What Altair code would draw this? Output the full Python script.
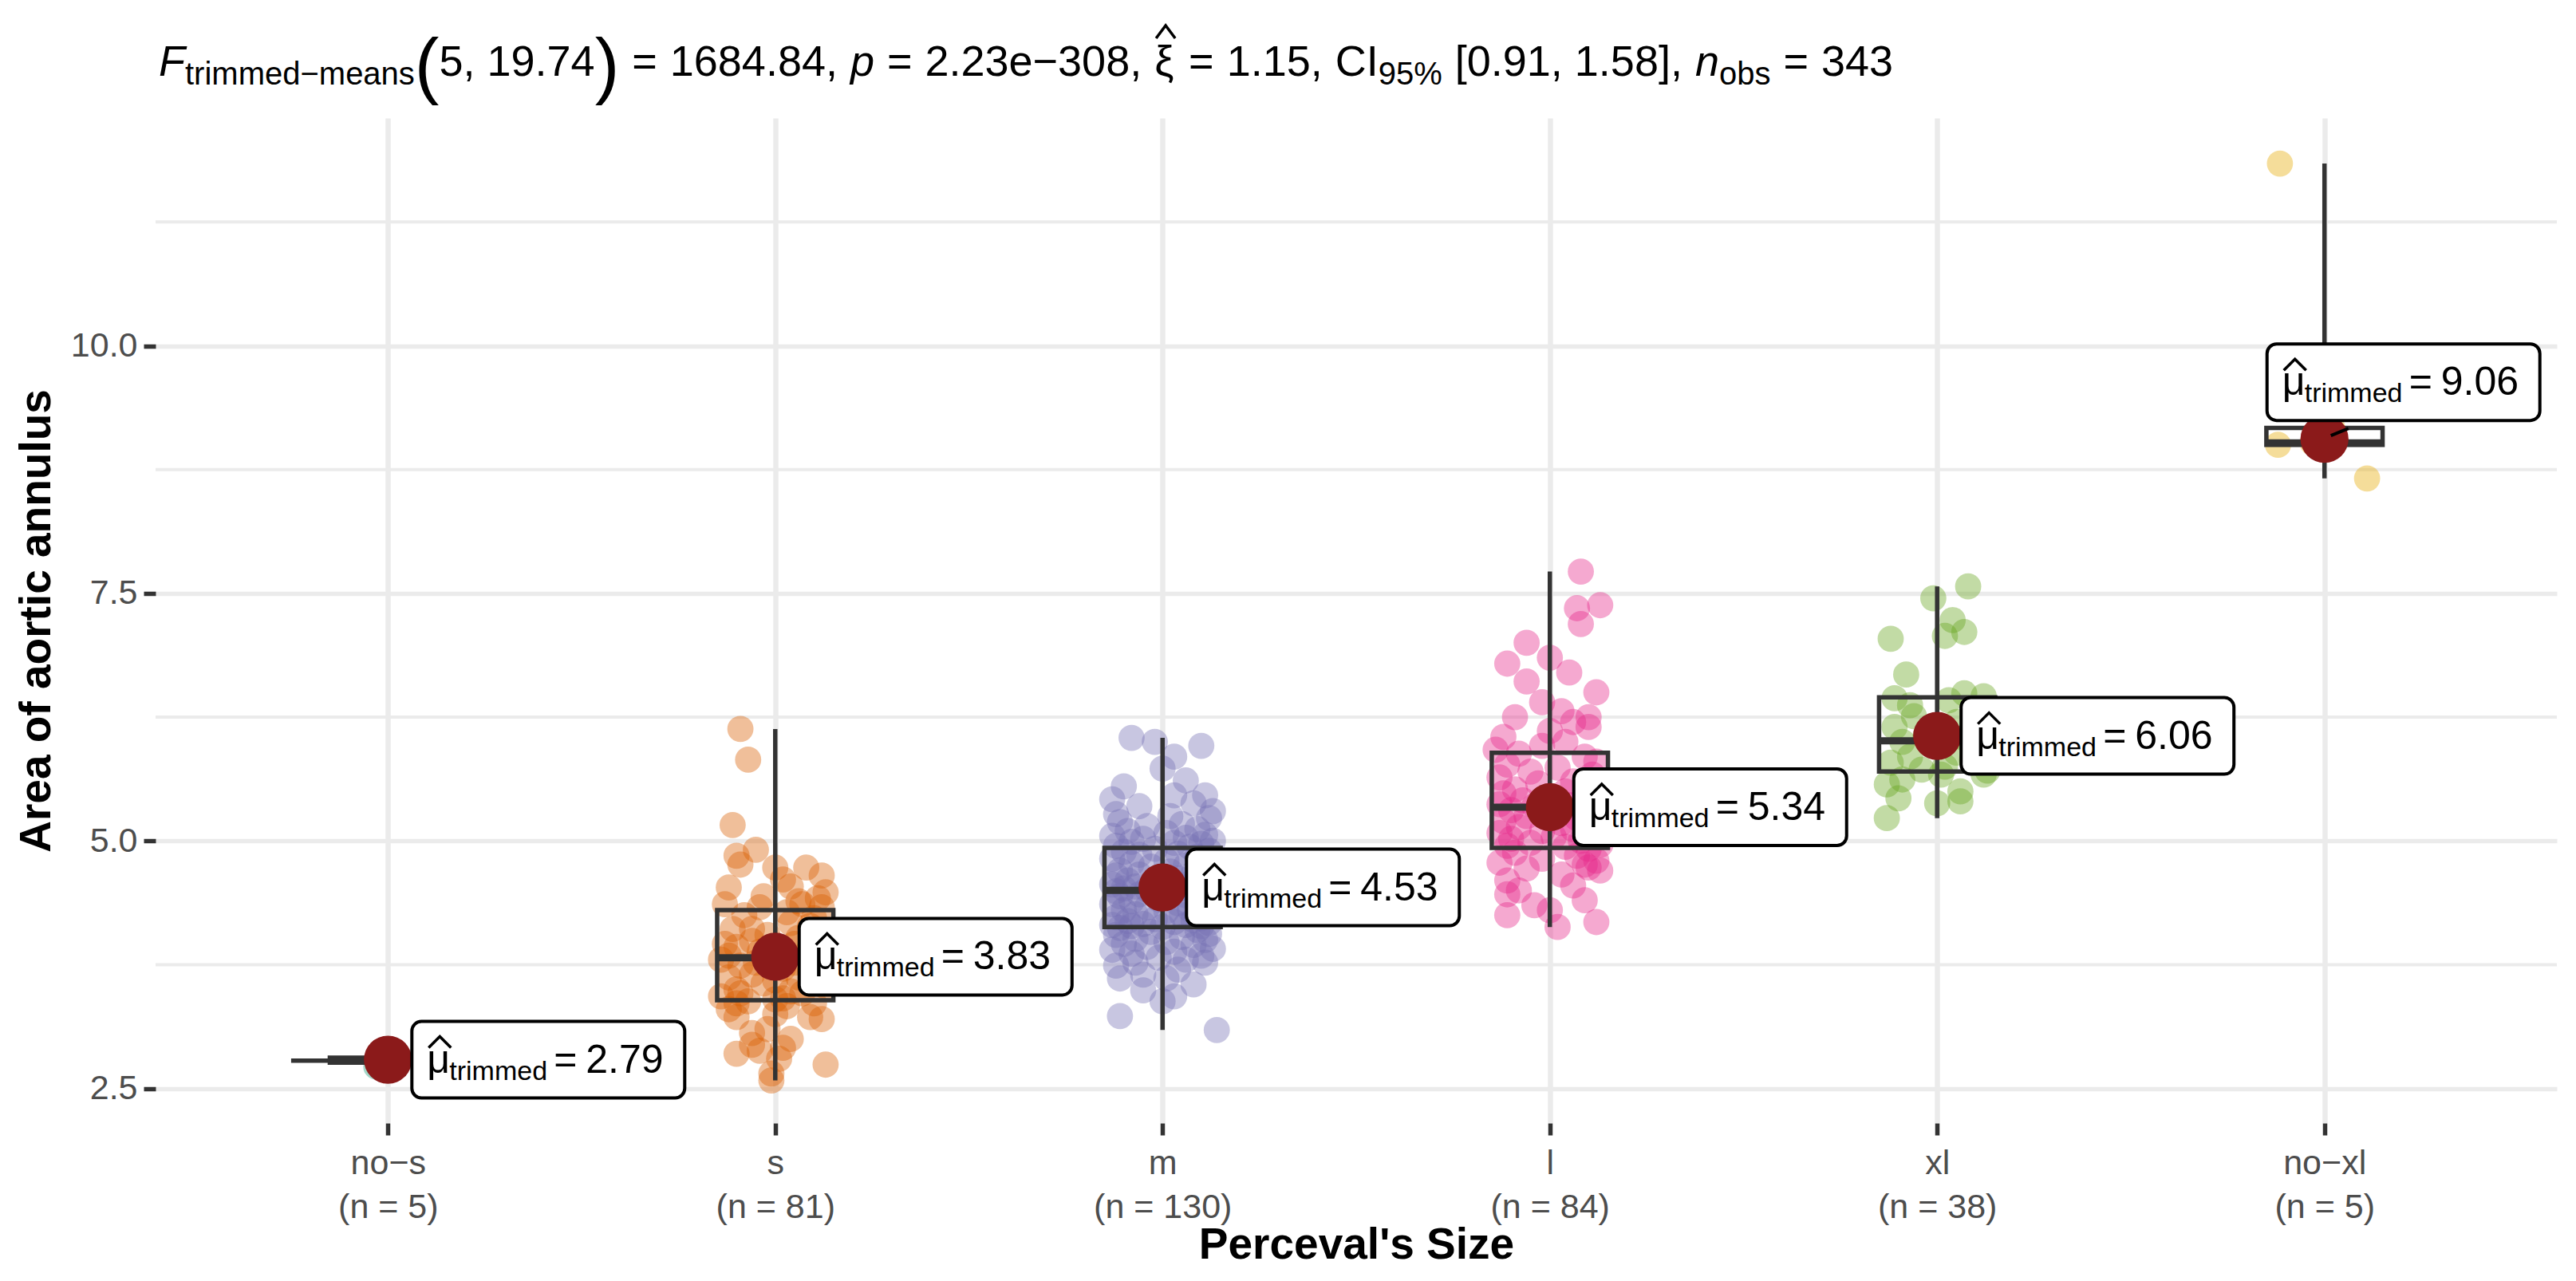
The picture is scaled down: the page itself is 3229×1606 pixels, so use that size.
import json
import altair as alt
import pandas as pd

FONT = "Liberation Sans"
GRID = "#EBEBEB"
DARK = "#333333"
RED = "#8B1A1A"

# ---------------- data ----------------
groups = ["no-s", "s", "m", "l", "xl", "no-xl"]
tick_names = ["no\u2212s", "s", "m", "l", "xl", "no\u2212xl"]
n_labels = ["(n = 5)", "(n = 81)", "(n = 130)", "(n = 84)", "(n = 38)", "(n = 5)"]
palette = ["#1B9E77", "#D95F02", "#7570B3", "#E7298A", "#66A61E", "#E6AB02"]

trimmed_means = [2.79, 3.83, 4.53, 5.34, 6.06, 9.06]
box_q1 = [2.76, 3.39, 4.13, 4.93, 5.70, 9.00]
box_median = [2.78, 3.82, 4.50, 5.34, 6.01, 9.02]
box_q3 = [2.81, 4.30, 4.93, 5.89, 6.45, 9.17]

y_breaks = [2.5, 5.0, 7.5, 10.0]
y_minor_breaks = [3.75, 6.25, 8.75, 11.25]

# (value, horizontal jitter in category units)
pts_no_s = [(2.72, -0.03), (2.77, 0.01), (2.79, -0.02), (2.81, 0.02), (2.83, -0.01)]

pts_s = [
    (6.13, -0.09), (5.82, -0.07), (5.16, -0.11), (4.91, -0.05), (4.85, -0.10), (4.76, -0.09), (4.73, 0.08), (4.73, 0.00), (4.65, 0.12), (4.61, 0.02),
    (4.54, 0.04), (4.53, -0.12), (4.48, 0.13), (4.44, -0.03), (4.42, 0.11), (4.39, 0.06), (4.36, 0.07), (4.36, -0.13), (4.33, -0.04), (4.33, 0.12),
    (4.28, 0.03), (4.25, -0.08), (4.22, 0.10), (4.17, 0.04), (4.14, 0.09), (4.11, -0.11), (4.11, -0.06), (4.08, 0.13), (4.05, -0.02), (4.02, 0.06),
    (3.99, -0.06), (3.96, 0.05), (3.96, -0.13), (3.93, -0.10), (3.93, 0.10), (3.90, 0.01), (3.88, -0.04), (3.86, 0.08), (3.84, -0.12), (3.83, 0.12),
    (3.80, -0.14), (3.80, 0.12), (3.77, -0.05), (3.77, 0.05), (3.74, -0.09), (3.71, 0.02), (3.68, 0.09), (3.65, -0.06), (3.62, -0.12), (3.62, 0.06),
    (3.59, 0.00), (3.59, 0.11), (3.56, -0.03), (3.53, 0.13), (3.50, -0.10), (3.48, 0.04), (3.46, -0.09), (3.46, 0.07), (3.43, -0.14), (3.41, 0.02),
    (3.40, 0.00), (3.38, -0.07), (3.36, -0.10), (3.36, 0.10), (3.33, 0.03), (3.30, -0.12), (3.25, 0.00), (3.22, -0.10), (3.22, 0.09), (3.20, 0.12),
    (3.10, -0.02), (3.06, -0.06), (3.00, 0.04), (2.94, -0.06), (2.91, 0.02), (2.88, -0.04), (2.85, -0.10), (2.80, 0.01), (2.74, 0.13), (2.65, -0.01), (2.58, -0.01),
]

pts_m = [
    (6.04, -0.08), (6.00, -0.02), (5.96, 0.10), (5.85, 0.03), (5.73, 0.00), (5.61, 0.06), (5.55, -0.10), (5.46, 0.03), (5.46, 0.11), (5.42, -0.13),
    (5.38, 0.08), (5.35, -0.06), (5.30, 0.13), (5.27, -0.12), (5.25, 0.02), (5.23, 0.12), (5.19, -0.11), (5.17, 0.05), (5.15, -0.04), (5.12, 0.09),
    (5.10, -0.09), (5.08, 0.01), (5.06, 0.11), (5.05, -0.13), (5.03, 0.06), (5.02, -0.05), (5.00, 0.13), (4.99, -0.08), (4.98, 0.03), (4.97, 0.10),
    (4.95, -0.12), (4.94, 0.07), (4.92, -0.02), (4.90, 0.12), (4.89, -0.10), (4.87, 0.04), (4.86, -0.06), (4.84, 0.09), (4.82, -0.13), (4.80, 0.01),
    (4.79, 0.11), (4.77, -0.08), (4.75, 0.06), (4.74, -0.03), (4.72, 0.13), (4.70, -0.11), (4.69, 0.02), (4.67, 0.08), (4.66, -0.06), (4.65, -0.12),
    (4.63, 0.10), (4.62, 0.04), (4.60, -0.09), (4.59, 0.12), (4.58, -0.02), (4.57, 0.07), (4.56, -0.13), (4.55, 0.00), (4.54, -0.07), (4.53, 0.11),
    (4.53, 0.05), (4.52, -0.10), (4.51, 0.13), (4.51, -0.04), (4.50, 0.08), (4.49, -0.12), (4.48, 0.02), (4.47, 0.10), (4.46, -0.06), (4.45, 0.06),
    (4.44, -0.11), (4.42, 0.12), (4.41, -0.01), (4.40, 0.09), (4.39, -0.08), (4.37, 0.04), (4.36, -0.13), (4.34, 0.11), (4.33, -0.04), (4.31, 0.07),
    (4.30, -0.10), (4.29, 0.01), (4.27, 0.13), (4.26, -0.07), (4.25, 0.05), (4.23, -0.12), (4.22, 0.10), (4.21, -0.02), (4.20, 0.08), (4.19, -0.09),
    (4.18, 0.03), (4.17, 0.12), (4.16, -0.05), (4.15, -0.13), (4.15, 0.06), (4.14, 0.10), (4.14, -0.08), (4.13, 0.00), (4.12, -0.11), (4.10, 0.09),
    (4.08, -0.03), (4.06, 0.12), (4.05, -0.12), (4.03, 0.05), (4.01, -0.07), (4.00, 0.11), (3.98, 0.01), (3.96, -0.10), (3.95, 0.08), (3.93, -0.04),
    (3.91, 0.13), (3.90, -0.13), (3.88, 0.03), (3.86, -0.08), (3.84, 0.10), (3.82, -0.01), (3.80, 0.06), (3.77, -0.07), (3.77, 0.11), (3.74, -0.12),
    (3.70, 0.04), (3.65, -0.05), (3.61, -0.11), (3.61, 0.01), (3.55, 0.08), (3.49, -0.05), (3.43, 0.03), (3.38, 0.00), (3.23, -0.11), (3.09, 0.14),
]

pts_l = [
    (7.72, 0.08), (7.38, 0.13), (7.35, 0.07), (7.19, 0.08), (7.00, -0.06), (6.85, 0.00), (6.79, -0.11), (6.70, 0.05), (6.61, -0.06), (6.50, 0.12),
    (6.40, -0.02), (6.31, 0.03), (6.25, -0.09), (6.25, 0.10), (6.20, 0.06), (6.15, 0.10), (6.11, 0.00), (6.05, -0.12), (6.00, 0.04), (5.96, -0.02),
    (5.92, -0.14), (5.88, -0.08), (5.85, 0.09), (5.80, 0.12), (5.77, -0.11), (5.74, 0.02), (5.70, -0.05), (5.67, 0.11), (5.64, -0.13), (5.60, 0.06),
    (5.58, -0.03), (5.55, 0.13), (5.52, -0.09), (5.50, 0.04), (5.48, -0.12), (5.45, 0.09), (5.43, 0.00), (5.41, -0.07), (5.39, 0.12), (5.37, -0.13),
    (5.36, 0.05), (5.35, -0.04), (5.33, 0.10), (5.31, -0.10), (5.29, 0.02), (5.27, 0.13), (5.25, -0.06), (5.23, 0.07), (5.20, -0.12), (5.18, 0.03),
    (5.16, 0.11), (5.14, -0.08), (5.12, 0.06), (5.10, -0.02), (5.08, -0.13), (5.06, 0.12), (5.04, 0.01), (5.02, -0.10), (5.00, 0.08), (4.98, -0.05),
    (4.96, 0.13), (4.95, -0.11), (4.94, 0.04), (4.92, 0.10), (4.88, -0.09), (4.85, 0.07), (4.82, -0.02), (4.80, 0.12), (4.78, -0.13), (4.76, 0.09),
    (4.73, 0.10), (4.72, -0.06), (4.70, 0.13), (4.66, 0.03), (4.60, -0.11), (4.55, 0.06), (4.50, -0.08), (4.46, -0.11), (4.40, 0.09), (4.35, -0.04),
    (4.30, 0.00), (4.25, -0.11), (4.18, 0.12), (4.13, 0.02),
]

pts_xl = [
    (7.57, 0.08), (7.45, -0.01), (7.23, 0.04), (7.11, 0.07), (7.07, 0.02), (7.04, -0.12), (6.68, -0.08), (6.49, 0.07), (6.46, 0.12), (6.44, -0.11),
    (6.42, 0.03), (6.37, -0.07), (6.30, 0.10), (6.26, -0.06), (6.20, 0.05), (6.15, -0.11), (6.10, 0.12), (6.06, -0.03), (6.04, 0.07), (6.00, -0.09),
    (5.97, 0.01), (5.93, 0.11), (5.89, 0.05), (5.85, -0.07), (5.82, 0.09), (5.79, -0.12), (5.75, 0.02), (5.72, -0.04), (5.71, 0.13), (5.67, 0.01),
    (5.67, 0.12), (5.62, -0.09), (5.57, -0.13), (5.50, 0.06), (5.43, -0.10), (5.40, 0.06), (5.38, 0.00), (5.23, -0.13),
]

pts_no_xl = [(11.84, -0.115), (9.17, 0.02), (9.02, -0.03), (9.00, -0.12), (8.66, 0.11)]

title_segments = [
    ("F", "it"), ("trimmed\u2212means", "sub"), ("(", "paren"), ("5, 19.74", "main"), (")", "paren"),
    ("=", "eq"), ("1684.84", "main"), (",", "sep"),
    ("p", "it"), ("=", "eq"), ("2.23e\u2212308", "main"), (",", "sep"),
    ("\u03be", "xi"), ("=", "eq"), ("1.15", "main"), (",", "sep"),
    ("CI", "main"), ("95%", "sub"), ("[0.91, 1.58]", "gapmain"), (",", "sep"),
    ("n", "it"), ("obs", "sub"), ("=", "eq"), ("343", "main"),
]

# ---------------- tables ----------------
point_sets = [pts_no_s, pts_s, pts_m, pts_l, pts_xl, pts_no_xl]
rows = []
for i, (g, pts) in enumerate(zip(groups, point_sets)):
    for v, j in pts:
        rows.append({"group": g, "pos": i + 1, "xj": i + 1 + j, "value": v})
points_df = pd.DataFrame(rows)

stats_df = pd.DataFrame({
    "group": groups,
    "pos": list(range(1, 7)),
    "q1": box_q1, "med": box_median, "q3": box_q3,
    "mean": trimmed_means,
    "lab": [f"{m:.2f}" for m in trimmed_means],
})

# ---------------- scales / axes ----------------
W, H = 3010, 1260
XS = alt.Scale(domain=[0.4, 6.6], nice=False, zero=False)
YS = alt.Scale(domain=[2.15, 12.30], nice=False, zero=False)

label_expr = ("[" + json.dumps(tick_names, ensure_ascii=False) + "[datum.value - 1], "
              + json.dumps(n_labels) + "[datum.value - 1]]")

x_axis = alt.Axis(
    values=[1, 2, 3, 4, 5, 6], labelExpr=label_expr, title="Perceval's Size",
    grid=True, gridColor=GRID, gridWidth=6.5, domain=False,
    ticks=True, tickColor=DARK, tickWidth=5.5, tickSize=15,
    labelFont=FONT, labelFontSize=43, labelColor="#4D4D4D", labelPadding=14,
    labelLineHeight=55, labelBaseline="top", labelAlign="center", labelFlush=False, labelOverlap=False,
    titleFont=FONT, titleFontSize=55, titleFontWeight="bold", titleColor="black",
    titleY=152, titleBaseline="middle",
)
y_axis = alt.Axis(
    values=y_breaks, format=".1f", title="Area of aortic annulus",
    grid=True, gridColor=GRID, gridWidth=5.7, domain=False,
    ticks=True, tickColor=DARK, tickWidth=5.5, tickSize=15,
    labelFont=FONT, labelFontSize=43, labelColor="#4D4D4D", labelPadding=8,
    labelAlign="right", labelBaseline="middle", labelFlush=False, labelOverlap=False,
    titleFont=FONT, titleFontSize=55, titleFontWeight="bold", titleColor="black",
    titleX=-150, titleY=H / 2, titleAngle=270, titleBaseline="middle",
)


def X(f):
    return alt.X(f, type="quantitative", scale=XS, axis=x_axis)


def Y(f):
    return alt.Y(f, type="quantitative", scale=YS, axis=y_axis)


def hat_path(cx, cy, hw, hh, unit=10.0):
    return (f"M{(cx - hw) / unit:.3f},{(cy + hh) / unit:.3f}"
            f"L{cx / unit:.3f},{(cy - hh) / unit:.3f}"
            f"L{(cx + hw) / unit:.3f},{(cy + hh) / unit:.3f}")


# ---------------- layers ----------------
minor = alt.Chart(pd.DataFrame({"v": y_minor_breaks})).mark_rule(
    color=GRID, strokeWidth=4).encode(y=Y("v"))

points = alt.Chart(points_df).mark_circle(size=1075, opacity=0.4).encode(
    x=X("xj"), y=Y("value"),
    color=alt.Color("group:N", scale=alt.Scale(domain=groups, range=palette), legend=None),
)

violin = alt.Chart(points_df).transform_aggregate(
    lo="min(value)", hi="max(value)", groupby=["pos"]
).mark_rule(color=DARK, strokeWidth=5.5).encode(x=X("pos"), y=Y("lo"), y2=alt.Y2("hi"))

nos_violin = alt.Chart(stats_df).transform_filter("datum.pos == 1").transform_calculate(
    a="datum.pos - 0.25", b="datum.pos + 0.25"
).mark_rule(color=DARK, strokeWidth=5.5).encode(x=X("a"), x2=alt.X2("b"), y=Y("med"))

boxes = alt.Chart(stats_df).transform_calculate(
    a="datum.pos - 0.15", b="datum.pos + 0.15"
).mark_rect(fillOpacity=0, stroke=DARK, strokeWidth=5.5).encode(
    x=X("a"), x2=alt.X2("b"), y=Y("q1"), y2=alt.Y2("q3"))

medians = alt.Chart(stats_df).transform_calculate(
    a="datum.pos - 0.15", b="datum.pos + 0.15"
).mark_rule(color=DARK, strokeWidth=9).encode(x=X("a"), x2=alt.X2("b"), y=Y("med"))

mean_pts = alt.Chart(stats_df).mark_circle(size=3632, color=RED, opacity=1).encode(
    x=X("pos"), y=Y("mean"))

connector = alt.Chart(stats_df).transform_filter("datum.pos == 6").mark_rule(
    color="black", strokeWidth=4, xOffset=8, x2Offset=30, yOffset=-4, y2Offset=-13
).encode(x=X("pos"), x2=alt.X2("pos"), y=Y("mean"), y2=alt.Y2("mean"))


def label_layers(flt, sx, sy):
    base = alt.Chart(stats_df).transform_filter(flt)
    enc = dict(x=X("pos"), y=Y("mean"))
    txt = dict(font=FONT, align="left", baseline="alphabetic", color="black")
    box = base.mark_rect(
        xOffset=sx + 30, x2Offset=sx + 372, yOffset=sy - 48, y2Offset=sy + 48,
        cornerRadius=12, fill="white", stroke="black", strokeWidth=4,
    ).encode(x=X("pos"), x2=alt.X2("pos"), y=Y("mean"), y2=alt.Y2("mean"))
    mu = base.mark_text(text="\u03bc", fontSize=50, dx=sx + 49, dy=sy + 16, **txt).encode(**enc)
    hat = base.mark_point(
        shape=hat_path(sx + 65, sy - 22, 14, 7), size=400, filled=False,
        stroke="black", strokeWidth=3.5, opacity=1,
    ).encode(**enc)
    sub = base.mark_text(text="trimmed", fontSize=34, dx=sx + 77, dy=sy + 25, **txt).encode(**enc)
    eq = base.mark_text(text="=", fontSize=50, dx=sx + 208, dy=sy + 16, **txt).encode(**enc)
    val = base.mark_text(fontSize=50, dx=sx + 248, dy=sy + 16, **txt).encode(text="lab:N", **enc)
    return [box, mu, hat, sub, eq, val]


labels_main = label_layers("datum.pos < 6", 0, 0)
labels_noxl = label_layers("datum.pos == 6", -102, -71)

# ---------------- subtitle with sub-scripts ----------------
FW = {' ': 278, ',': 278, '.': 278, '(': 333, ')': 333, '-': 333, '\u2212': 584, '=': 584,
      '[': 278, ']': 278, '%': 889, 'a': 556, 'b': 556, 'c': 500, 'd': 556, 'e': 556,
      'i': 222, 'm': 833, 'n': 556, 'o': 556, 'p': 556, 'r': 333, 's': 500, 't': 278,
      'C': 722, 'I': 278, 'F': 611, '\u03be': 500}


def tw(s, size):
    return sum(FW.get(c, 556) for c in s) * size / 1000.0


M, S, P = 54, 40, 92
sizes = {"it": M, "main": M, "gapmain": M, "sub": S, "paren": P, "eq": M, "sep": M, "xi": M}
fixed = sum(tw(t, sizes[k]) for t, k in title_segments)
n_gaps = sum(2 if k == "eq" else 1 for t, k in title_segments if k in ("eq", "sep", "gapmain"))
t_left, t_right = 4, 2178
gap = (t_right - t_left - fixed) / n_gaps
yb = -53
dy_kind = {"it": 0, "main": 0, "gapmain": 0, "sub": 11, "paren": 18, "eq": 0, "sep": 0, "xi": 0}
one = pd.DataFrame({"k": [0]})
title_layers = []
cur = t_left
for t, k in title_segments:
    if k in ("eq", "gapmain"):
        cur += gap
    title_layers.append(
        alt.Chart(one).mark_text(
            text=t, font=FONT, fontSize=sizes[k], align="left", baseline="alphabetic",
            fontStyle="italic" if k == "it" else "normal", color="black",
        ).encode(x=alt.value(cur), y=alt.value(yb + dy_kind[k]))
    )
    if k == "xi":
        title_layers.append(
            alt.Chart(one).mark_point(
                shape=hat_path(0, 0, 12, 8), size=400, filled=False,
                stroke="black", strokeWidth=3.5, opacity=1,
            ).encode(x=alt.value(cur + 14), y=alt.value(yb - 55))
        )
    cur += tw(t, sizes[k])
    if k in ("eq", "sep"):
        cur += gap

chart = alt.layer(
    minor, points, violin, nos_violin, boxes, medians, mean_pts, connector,
    *labels_main, *labels_noxl, *title_layers,
).properties(
    width=W, height=H,
    padding={"left": 187, "top": 140, "right": 10, "bottom": 184},
    autosize=alt.AutoSizeParams(type="none"),
    background="white",
).configure_view(strokeWidth=0)

chart.save("out.html", embed_options={"renderer": "svg", "actions": False})
